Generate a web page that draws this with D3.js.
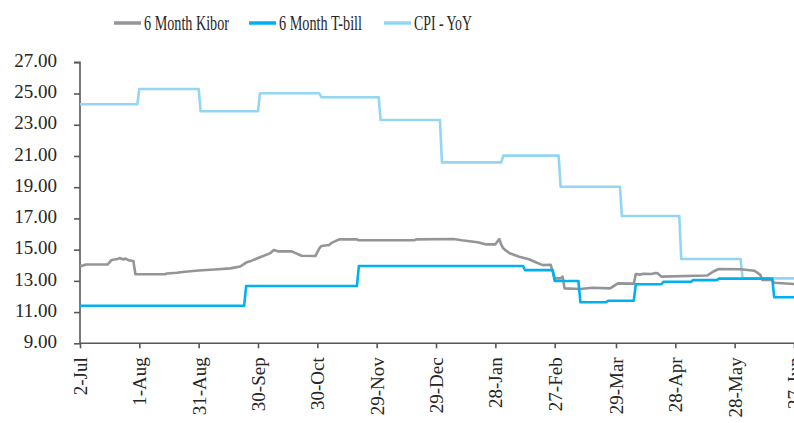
<!DOCTYPE html>
<html>
<head>
<meta charset="utf-8">
<script src="https://cdn.jsdelivr.net/npm/d3@7/dist/d3.min.js"></script>
<style>
  body { margin: 0; background: #fff; }
  text { font-family: "Palatino Linotype", "Book Antiqua", Palatino, "Liberation Serif", serif; fill: #262626; }
</style>
</head>
<body>
<div id="chart"></div>
<script>
// ---- data ----
var seriesNames = ["6 Month Kibor", "6 Month T-bill", "CPI - YoY"];
var seriesColors = ["#939598", "#00b0f0", "#93d6f4"];

var kiborDates = ["2023-07-02","2023-07-03","2023-07-05","2023-07-16","2023-07-18","2023-07-21","2023-07-22",
  "2023-07-24","2023-07-25","2023-07-27","2023-07-29","2023-07-30","2023-08-14","2023-08-15","2023-08-20",
  "2023-08-24","2023-08-31","2023-09-08","2023-09-16","2023-09-21","2023-09-24","2023-09-26","2023-10-01",
  "2023-10-06","2023-10-08","2023-10-10","2023-10-17","2023-10-22","2023-10-29","2023-10-31","2023-11-01",
  "2023-11-05","2023-11-06","2023-11-10","2023-11-19","2023-11-20","2023-12-18","2023-12-19","2024-01-07",
  "2024-01-11","2024-01-14","2024-01-19","2024-01-23","2024-01-28","2024-01-30","2024-01-31","2024-02-01",
  "2024-02-04","2024-02-09","2024-02-14","2024-02-18","2024-02-21","2024-02-25","2024-02-27","2024-03-01",
  "2024-03-02","2024-03-03","2024-03-11","2024-03-17","2024-03-26","2024-03-30","2024-04-07","2024-04-08",
  "2024-04-10","2024-04-12","2024-04-16","2024-04-18","2024-04-19","2024-04-21","2024-05-14","2024-05-18",
  "2024-05-20","2024-05-31","2024-06-07","2024-06-10","2024-06-11","2024-06-16","2024-06-17","2024-06-30"];
var kiborValues = [14.00,13.95,14.05,14.05,14.34,14.40,14.46,
  14.37,14.43,14.30,14.27,13.42,13.42,13.47,13.52,
  13.58,13.66,13.73,13.80,13.92,14.17,14.25,14.51,
  14.76,14.97,14.89,14.89,14.61,14.59,15.08,15.23,
  15.30,15.42,15.66,15.66,15.60,15.60,15.66,15.68,
  15.60,15.55,15.47,15.34,15.34,15.68,15.32,15.08,
  14.78,14.55,14.38,14.16,14.01,14.03,13.16,13.16,
  13.27,12.52,12.48,12.56,12.52,12.84,12.82,13.44,
  13.40,13.46,13.44,13.50,13.48,13.27,13.34,13.65,
  13.76,13.74,13.65,13.38,13.06,13.06,12.88,12.78];

var tbillStarts = ["2023-07-02","2023-09-24","2023-11-20","2024-02-12","2024-02-27","2024-03-11",
  "2024-03-25","2024-04-08","2024-04-22","2024-05-07","2024-05-20","2024-06-17"];
var tbillValues = [11.41,12.67,13.95,13.69,12.99,11.63,11.73,12.78,12.94,13.05,13.14,11.95];

var cpiStarts = ["2023-07-02","2023-08-01","2023-09-01","2023-10-01","2023-11-01","2023-12-01",
  "2024-01-01","2024-02-01","2024-03-01","2024-04-01","2024-05-01","2024-06-01"];
var cpiValues = [24.31,25.29,23.86,25.02,24.76,23.30,20.59,21.02,19.03,17.15,14.40,13.16];

var endDate = "2024-06-30";
var tickDates = ["2023-07-02","2023-08-01","2023-08-31","2023-09-30","2023-10-30","2023-11-29","2023-12-29",
  "2024-01-28","2024-02-27","2024-03-29","2024-04-28","2024-05-28","2024-06-27"];
var yTicks = [9, 11, 13, 15, 17, 19, 21, 23, 25, 27];

// ---- chart ----
var width = 794, height = 423;
var parse = d3.timeParse("%Y-%m-%d");
var fmt = d3.timeFormat("%-d-%b");

var svg = d3.select("#chart").append("svg")
  .attr("width", width).attr("height", height);

var x = d3.scaleTime()
  .domain([parse(tickDates[0]), parse(tickDates[tickDates.length - 1])])
  .range([80, 794]);
var y = d3.scaleLinear().domain([9, 27]).range([343.3, 62.3]);

// flat segments that change on the start dates (one day ramp like the source)
function steps(starts, values) {
  var pts = [];
  starts.forEach(function(s, i) {
    var e = i < starts.length - 1 ? d3.timeDay.offset(parse(starts[i + 1]), -1) : parse(endDate);
    pts.push([parse(s), values[i]], [e, values[i]]);
  });
  return pts;
}

var kibor = kiborDates.map(function(d, i) { return [parse(d), kiborValues[i]]; });
var tbill = steps(tbillStarts, tbillValues);
var cpi = steps(cpiStarts, cpiValues);

var line = d3.line()
  .x(function(d) { return x(d[0]); })
  .y(function(d) { return y(d[1]); });

// axes
var yAxis = svg.append("g")
  .attr("transform", "translate(80,0)")
  .call(d3.axisLeft(y).tickValues(yTicks).tickFormat(d3.format(".2f")).tickSize(6).tickPadding(17));
yAxis.selectAll("text").style("font-size", "19px").attr("dy", "0.22em");

var xAxis = svg.append("g")
  .attr("transform", "translate(0,343.3)")
  .call(d3.axisBottom(x).tickValues(tickDates.map(parse)).tickFormat(fmt).tickSize(5).tickSizeOuter(0));
xAxis.selectAll("text")
  .style("font-size", "19px")
  .style("text-anchor", "end")
  .attr("transform", "rotate(-90)")
  .attr("x", -14).attr("y", 0).attr("dy", "0.34em");

svg.selectAll(".domain, .tick line").attr("stroke", "#595959").attr("stroke-width", 1.6);
yAxis.select(".domain").attr("d", "M-6,62.3H0V343.3");
xAxis.select(".domain").attr("d", "M80,0H794");

// series (T-bill drawn last, it sits over CPI at the end)
var order = [[cpi, 2], [kibor, 0], [tbill, 1]];
order.forEach(function(o) {
  svg.append("path")
    .datum(o[0])
    .attr("d", line)
    .attr("fill", "none")
    .attr("stroke", seriesColors[o[1]])
    .attr("stroke-width", 2.6)
    .attr("stroke-linejoin", "round");
});

// legend
var legX = [114, 249, 384], legW = [85, 83, 58];
var leg = svg.selectAll(".leg").data(seriesNames).enter().append("g")
  .attr("class", "leg")
  .attr("transform", function(d, i) { return "translate(" + legX[i] + ",23)"; });
leg.append("line")
  .attr("x1", 0).attr("x2", 27)
  .attr("stroke", function(d, i) { return seriesColors[i]; })
  .attr("stroke-width", 3.5);
leg.append("text")
  .attr("x", 30).attr("y", 7)
  .style("font-size", "20px")
  .attr("textLength", function(d, i) { return legW[i]; })
  .attr("lengthAdjust", "spacingAndGlyphs")
  .text(function(d) { return d; });
</script>
</body>
</html>
